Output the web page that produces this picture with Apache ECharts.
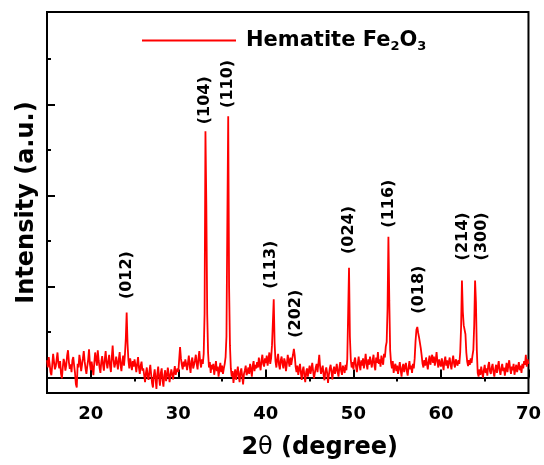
<!DOCTYPE html>
<html>
<head>
<meta charset="utf-8">
<title>Hematite XRD</title>
<script src="https://cdn.jsdelivr.net/npm/echarts@6/dist/echarts.min.js"></script>
<style>
	html,body{margin:0;padding:0;background:#fff;}
	#xrd_chart{width:544px;height:465px;}
</style>
</head>
<body>
<div id="xrd_chart"></div>
<script>
//2theta grid of the scan
var thetaStart = 15.0;
var thetaStep = 0.1;

//intensity, one row per degree (x.0 ... x.9)
var intensity15 = [0.38,0.22,0.45,0.30,0.12,0.05,0.28,0.52,0.35,0.18,
	0.24,0.40,0.55,0.31,0.20,0.36,0.08,-0.02,0.22,0.41,
	0.33,0.15,0.27,0.48,0.60,0.34,0.19,0.29,0.12,0.38,
	0.45,0.26,0.10,-0.15,-0.22,0.30,0.22,0.50,0.37,0.14,
	0.28,0.42,0.58,0.36,0.20,0.08,0.25,0.39,0.62,0.30];
var intensity20 = [0.16,0.35,0.20,0.05,0.32,0.55,0.41,0.26,0.60,0.38,
	0.22,0.10,0.34,0.47,0.28,0.15,0.40,0.58,0.33,0.20,
	0.36,0.50,0.25,0.12,0.44,0.70,0.38,0.22,0.30,0.46,
	0.32,0.18,0.40,0.56,0.28,0.14,0.35,0.48,0.26,0.50,
	0.85,1.43,0.75,0.38,0.20,0.42,0.30,0.16,0.36,0.24];
var intensity25 = [0.40,0.28,0.12,0.30,0.45,0.22,0.08,0.26,0.35,0.15,
	0.20,0.05,-0.10,0.10,0.22,0.02,-0.05,0.14,0.28,0.06,
	-0.12,-0.22,0.04,0.18,-0.02,-0.25,0.08,0.24,0.00,-0.18,
	0.10,0.20,-0.06,-0.20,0.05,0.16,-0.08,0.02,0.22,0.08,
	-0.10,0.04,0.18,0.08,-0.04,0.12,0.25,0.06,0.14,0.20];
var intensity30 = [0.12,0.40,0.67,0.42,0.28,0.18,0.35,0.24,0.40,0.30,
	0.16,0.32,0.48,0.25,0.10,0.36,0.44,0.20,0.28,0.38,
	0.50,0.30,0.18,0.42,0.58,0.34,0.22,0.40,0.30,0.52,
	1.40,5.41,3.80,1.40,0.55,0.22,0.34,0.10,0.28,0.18,
	0.30,0.06,0.20,0.36,0.14,0.24,0.02,0.18,0.32,0.12];
var intensity35 = [0.26,0.08,0.20,0.30,0.45,0.90,3.40,5.74,2.00,0.70,
	0.20,0.02,0.14,-0.12,0.06,0.18,-0.05,0.10,0.24,0.04,
	-0.10,0.12,0.20,0.02,-0.15,0.08,0.16,0.26,0.05,0.12,
	0.22,0.08,0.30,0.18,0.02,0.26,0.36,0.14,0.28,0.20,
	0.34,0.22,0.44,0.28,0.16,0.38,0.50,0.30,0.24,0.42];
var intensity40 = [0.32,0.48,0.26,0.40,0.55,0.30,0.42,0.70,1.20,1.72,
	0.75,0.36,0.22,0.40,0.52,0.28,0.18,0.38,0.46,0.30,
	0.20,0.42,0.34,0.14,0.30,0.50,0.36,0.24,0.44,0.28,
	0.40,0.50,0.63,0.48,0.24,0.12,0.26,0.06,0.18,0.30,
	0.10,-0.05,0.16,0.24,0.04,-0.10,0.12,0.20,0.02,0.15];
var intensity45 = [0.26,0.08,0.18,0.32,0.14,-0.02,0.10,0.22,0.30,0.12,
	0.30,0.50,0.24,0.08,0.18,0.26,0.04,-0.06,0.14,0.22,
	0.10,-0.12,0.06,0.20,0.28,0.12,-0.04,0.16,0.24,0.08,
	0.18,0.30,0.12,0.02,0.22,0.34,0.14,0.06,0.26,0.20,
	0.10,0.28,0.16,0.40,1.40,2.41,0.90,0.40,0.22,0.34];
var intensity50 = [0.18,0.36,0.44,0.24,0.12,0.30,0.46,0.28,0.16,0.38,
	0.26,0.42,0.20,0.34,0.52,0.30,0.18,0.40,0.28,0.46,
	0.34,0.22,0.38,0.50,0.26,0.16,0.44,0.32,0.56,0.30,
	0.40,0.24,0.48,0.36,0.28,0.52,0.44,0.68,0.78,1.50,
	3.09,1.70,0.60,0.32,0.20,0.36,0.10,0.24,0.30,0.14];
var intensity55 = [0.26,0.08,0.20,0.34,0.16,0.02,0.22,0.30,0.12,0.24,
	0.32,0.14,0.04,0.22,0.36,0.18,0.26,0.10,0.30,0.20,
	0.42,0.80,1.05,1.11,0.98,0.88,0.84,0.64,0.48,0.30,
	0.22,0.38,0.26,0.44,0.30,0.18,0.36,0.48,0.28,0.40,
	0.50,0.32,0.46,0.26,0.38,0.56,0.34,0.22,0.40,0.30];
var intensity60 = [0.24,0.42,0.30,0.16,0.36,0.46,0.26,0.38,0.20,0.34,
	0.44,0.28,0.18,0.36,0.48,0.30,0.22,0.40,0.32,0.26,
	0.38,0.30,0.55,1.10,2.13,1.45,1.15,1.12,0.95,0.55,
	0.35,0.25,0.38,0.28,0.42,0.32,0.48,0.60,1.15,2.13,
	1.65,0.60,0.10,0.02,0.18,0.06,0.24,0.12,0.00,0.16];
var intensity65 = [0.28,0.10,0.20,0.04,0.26,0.34,0.14,0.08,0.22,0.30,
	0.12,0.02,0.18,0.28,0.10,0.24,0.36,0.16,0.06,0.20,
	0.30,0.14,0.22,0.04,0.18,0.32,0.12,0.26,0.38,0.20,
	0.08,0.24,0.16,0.30,0.06,0.18,0.28,0.12,0.22,0.34,
	0.16,0.26,0.10,0.30,0.20,0.36,0.28,0.50,0.24,0.40,
	0.30];

//reflection labels
var hklLabels = ['(012)','(104)','(110)','(113)','(202)','(024)','(116)','(018)','(214)','(300)'];
var hklPos = [24.1, 33.0, 35.7, 40.6, 43.4, 49.5, 54.05, 57.5, 62.45, 64.7];
var hklHeight = [2.25, 6.09, 6.45, 2.48, 1.40, 3.24, 3.82, 1.93, 3.10, 3.10];

//ticks
var xMajorTicks = [20, 30, 40, 50, 60, 70];
var xMinorTicks = [25, 35, 45, 55, 65];
var yMajorTicks = [0, 2, 4, 6];
var yMinorTicks = [1, 3, 5, 7];

var fontName = 'DejaVu Sans';

function buildScan(){
	var all = [].concat(intensity15, intensity20, intensity25, intensity30, intensity35,
		intensity40, intensity45, intensity50, intensity55, intensity60, intensity65);
	var pts = [];
	for(var i=0;i<all.length;i++){
		var t = Math.round((thetaStart + i*thetaStep)*10)/10;
		pts.push([t, all[i]]);
	}
	return pts;
}

function buildLabels(){
	var pts = [];
	for(var i=0;i<hklLabels.length;i++){
		pts.push({value:[hklPos[i], hklHeight[i]], name:hklLabels[i]});
	}
	return pts;
}

var myChart = echarts.init(document.getElementById('xrd_chart'));
var option = {
	animation: false,
	grid: {
		left: 47, right: 15, top: 12, bottom: 68,
		show: true, borderColor: '#000', borderWidth: 2
	},
	legend: {
		left: 142, top: 28, padding: 0,
		itemWidth: 94, itemHeight: 2,
		data: [{name: 'Hematite', icon: 'rect'}],
		formatter: function(){ return 'Hematite Fe{s|2}O{s|3}'; },
		textStyle: {
			color: '#000', fontFamily: fontName, fontWeight: 'bold', fontSize: 21,
			lineHeight: 25, padding: [0,0,0,5],
			rich: {
				s: {color:'#000', fontFamily: fontName, fontWeight: 'bold', fontSize: 13, lineHeight: 13, verticalAlign: 'bottom'}
			}
		}
	},
	xAxis: [{
		type: 'value', min: 15, max: 70,
		name: '2{t|θ} (degree)', nameLocation: 'middle', nameGap: 43,
		nameTextStyle: {
			color: '#000', fontFamily: fontName, fontWeight: 'bold', fontSize: 24,
			padding: [0,0,0,64],
			rich: { t: {color:'#000', fontFamily: fontName, fontWeight: 'normal', fontSize: 24} }
		},
		axisLine: {show: true, lineStyle: {color: '#000', width: 2}},
		axisTick: {show: true, inside: true, length: 8, lineStyle: {color: '#000', width: 2}, customValues: xMajorTicks},
		axisLabel: {show: true, color: '#000', fontFamily: fontName, fontWeight: 'bold', fontSize: 18, margin: 12, customValues: xMajorTicks},
		splitLine: {show: false}
	},{
		type: 'value', min: 15, max: 70,
		axisLine: {show: false},
		axisTick: {show: true, inside: true, length: 4, lineStyle: {color: '#000', width: 2}, customValues: xMinorTicks},
		axisLabel: {show: false},
		splitLine: {show: false}
	}],
	yAxis: [{
		type: 'value', min: -0.34, max: 8.03,
		name: 'Intensity (a.u.)', nameLocation: 'middle', nameGap: 8,
		nameTextStyle: {color: '#000', fontFamily: fontName, fontWeight: 'bold', fontSize: 24},
		axisLine: {show: true, lineStyle: {color: '#000', width: 2}},
		axisTick: {show: true, inside: true, length: 8, lineStyle: {color: '#000', width: 2}, customValues: yMajorTicks},
		axisLabel: {show: false},
		splitLine: {show: false}
	},{
		type: 'value', min: -0.34, max: 8.03, position: 'left',
		axisLine: {show: false},
		axisTick: {show: true, inside: true, length: 4, lineStyle: {color: '#000', width: 2}, customValues: yMinorTicks},
		axisLabel: {show: false},
		splitLine: {show: false}
	}],
	series: [{
		name: 'Hematite',
		type: 'line',
		showSymbol: false,
		symbol: 'none',
		lineStyle: {color: '#ff0000', width: 1.8},
		itemStyle: {color: '#ff0000'},
		data: buildScan()
	},{
		name: 'hkl',
		type: 'scatter',
		symbolSize: 1,
		itemStyle: {color: 'rgba(0,0,0,0)', opacity: 1},
		label: {
			show: true, position: 'inside', rotate: 90,
			formatter: '{b}',
			color: '#000', fontFamily: fontName, fontWeight: 'bold', fontSize: 16,
			textBorderWidth: 0
		},
		data: buildLabels()
	}]
};
myChart.setOption(option);
</script>
</body>
</html>
